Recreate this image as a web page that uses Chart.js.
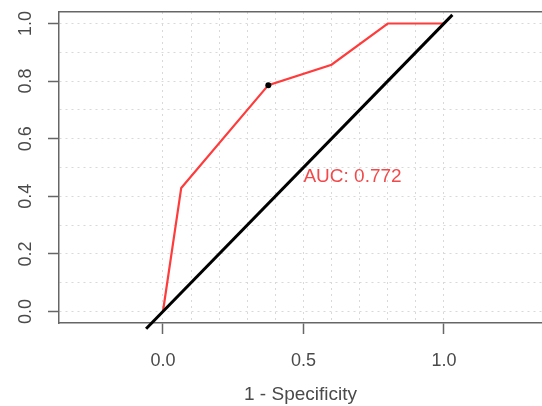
<!DOCTYPE html>
<html>
<head>
<meta charset="utf-8">
<script src="https://cdn.jsdelivr.net/npm/chart.js@4.4.1/dist/chart.umd.min.js"></script>
<style>
  html, body { margin: 0; padding: 0; background: #fff; }
  canvas { display: block; }
</style>
</head>
<body>
<canvas id="rocChart" width="542" height="406"></canvas>
<script>
// ROC curve: 1 - specificity vs sensitivity
const fpr = [0, 0.065, 0.375, 0.6, 0.8, 1.0];
const tpr = [0, 0.429, 0.786, 0.857, 1.0, 1.0];

// best threshold point
const bestFpr = [0.375];
const bestTpr = [0.786];

// reference diagonal (chance line)
const diagX = [-0.06, 1.03];
const diagY = [-0.06, 1.03];

const aucLabel = "AUC: 0.772";
const aucPos = [0.5, 0.5];

// grid every 0.1, labels only on these
const gridSteps = [0, 0.1, 0.2, 0.3, 0.4, 0.5, 0.6, 0.7, 0.8, 0.9, 1.0];
const xTickLabels = [0, 0.5, 1.0];
const yTickLabels = [0, 0.2, 0.4, 0.6, 0.8, 1.0];

const axisColor = "#666666";
const textColor = "#4a4a4a";
const fontFamily = "'Liberation Sans', Arial, Helvetica, sans-serif";

function hasLabel(list, v) {
  return list.some((t) => Math.abs(t - v) < 1e-6);
}

// no extra room for overflowing labels, the plot box is fixed
function noPadding(scale) {
  scale.paddingTop = 0;
  scale.paddingBottom = 0;
  scale.paddingLeft = 0;
  scale.paddingRight = 0;
}

const aucText = {
  id: "aucText",
  afterDatasetsDraw(chart) {
    const { ctx, scales } = chart;
    ctx.save();
    ctx.fillStyle = "#f24a4a";
    ctx.font = "19px " + fontFamily;
    ctx.textAlign = "left";
    ctx.textBaseline = "top";
    ctx.fillText(aucLabel, scales.x.getPixelForValue(aucPos[0]), scales.y.getPixelForValue(aucPos[1]));
    ctx.restore();
  },
};

const ctx = document.getElementById("rocChart");

new Chart(ctx, {
  type: "scatter",
  data: {
    datasets: [
      {
        label: "diagonal",
        data: diagX.map((x, i) => ({ x: x, y: diagY[i] })),
        showLine: true,
        borderColor: "#000000",
        borderWidth: 3,
        pointRadius: 0,
        clip: false,
      },
      {
        label: "threshold",
        data: bestFpr.map((x, i) => ({ x: x, y: bestTpr[i] })),
        backgroundColor: "#000000",
        borderColor: "#000000",
        pointRadius: 3,
        borderWidth: 0,
      },
      {
        label: "ROC",
        data: fpr.map((x, i) => ({ x: x, y: tpr[i] })),
        showLine: true,
        borderColor: "#ff3b3b",
        borderWidth: 2.2,
        pointRadius: 0,
        tension: 0,
      },
    ],
  },
  options: {
    responsive: false,
    animation: false,
    layout: { autoPadding: false, padding: { top: 12, left: 0, right: 0, bottom: 0 } },
    plugins: {
      legend: { display: false },
      tooltip: { enabled: false },
    },
    scales: {
      x: {
        type: "linear",
        position: "bottom",
        min: -0.37,
        max: 1.349,
        afterBuildTicks: (scale) => {
          scale.ticks = gridSteps.map((v) => ({ value: v }));
        },
        afterFit: (scale) => {
          scale.height = 83;
          noPadding(scale);
        },
        grid: {
          color: "#d9d9d9",
          lineWidth: 1,
          tickLength: 11,
          tickWidth: 1.5,
          tickColor: (c) => (c.tick && hasLabel(xTickLabels, c.tick.value) ? axisColor : "rgba(0,0,0,0)"),
        },
        border: { color: axisColor, width: 1.5, dash: [2, 4] },
        ticks: {
          padding: 16,
          color: textColor,
          font: { family: fontFamily, size: 18 },
          maxRotation: 0,
          autoSkip: false,
          callback: (v) => (hasLabel(xTickLabels, v) ? v.toFixed(1) : ""),
        },
        title: {
          display: true,
          text: "1 - Specificity",
          color: textColor,
          font: { family: fontFamily, size: 19 },
          padding: { top: 0, bottom: 0 },
        },
      },
      xTop: {
        type: "linear",
        position: "top",
        min: -0.37,
        max: 1.349,
        afterFit: (scale) => {
          scale.height = 0;
          noPadding(scale);
        },
        grid: { drawOnChartArea: false, drawTicks: false },
        border: { color: axisColor, width: 1.5 },
        ticks: { display: false },
      },
      y: {
        type: "linear",
        position: "left",
        min: -0.04,
        max: 1.04,
        afterBuildTicks: (scale) => {
          scale.ticks = gridSteps.map((v) => ({ value: v }));
        },
        afterFit: (scale) => {
          scale.width = 59;
          noPadding(scale);
        },
        grid: {
          color: "#d9d9d9",
          lineWidth: 1,
          tickLength: 11,
          tickWidth: 1.5,
          tickColor: (c) => (c.tick && hasLabel(yTickLabels, c.tick.value) ? axisColor : "rgba(0,0,0,0)"),
        },
        border: { color: axisColor, width: 1.5, dash: [2, 4] },
        ticks: {
          padding: 9,
          color: textColor,
          font: { family: fontFamily, size: 18 },
          minRotation: 90,
          maxRotation: 90,
          crossAlign: "center",
          autoSkip: false,
          callback: (v) => (hasLabel(yTickLabels, v) ? v.toFixed(1) : ""),
        },
      },
    },
  },
  plugins: [aucText],
});
</script>
</body>
</html>
